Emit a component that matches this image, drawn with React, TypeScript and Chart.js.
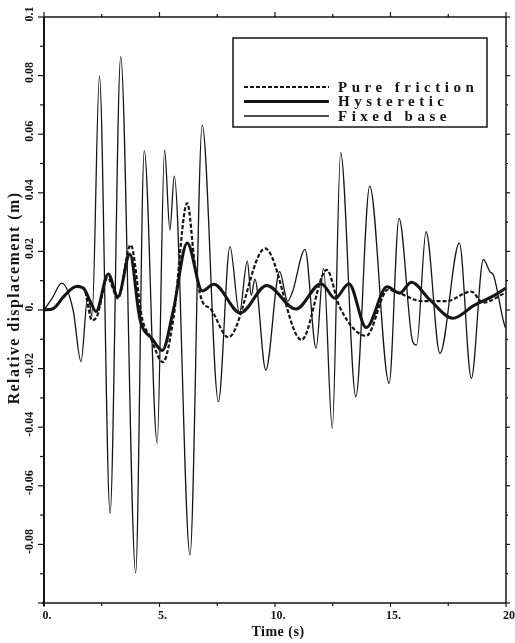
import React, { useEffect, useRef } from 'react';
import { Chart, registerables } from 'chart.js';

Chart.register(...registerables);

// ---- data (time in s, relative displacement in m) ----
const seriesNames = ['Pure friction', 'Hysteretic', 'Fixed base'];

const fixedT = [0, 0.35, 0.77, 1.26, 1.6, 1.9, 2.08, 2.4, 2.86, 3.32, 3.97, 4.34, 4.9, 5.22, 5.45, 5.64, 6.32, 6.85, 7.55, 8.05, 8.46, 8.8, 8.97, 9.13, 9.6, 10.2, 10.55, 10.75, 11.3, 11.78, 12.1, 12.48, 12.84, 13.5, 14.1, 14.94, 15.37, 15.95, 16.13, 16.54, 17.14, 17.98, 18.5, 19.02, 19.3, 19.45, 19.96, 20];
const fixedV = [0, 0.004, 0.0092, 0, -0.0176, 0.005, -0.002, 0.0799, -0.0694, 0.0865, -0.0897, 0.0544, -0.0455, 0.0546, 0.0273, 0.0457, -0.0836, 0.0631, -0.0313, 0.0216, -0.0011, 0.0167, 0.005, 0.0105, -0.0205, 0.0131, 0.003, 0.006, 0.0207, -0.013, 0.0143, -0.0404, 0.0537, -0.0296, 0.0423, -0.025, 0.0313, -0.0105, -0.012, 0.0267, -0.0148, 0.0228, -0.0233, 0.0173, 0.0131, 0.012, -0.0057, -0.006];

const hystT = [0, 0.4, 0.9, 1.4, 1.7, 2.0, 2.25, 2.78, 3.2, 3.72, 4.15, 4.7, 5.12, 5.6, 6.2, 6.85, 7.35, 8.5, 9.64, 10.9, 12.0, 12.6, 13.2, 13.95, 14.85, 15.4, 15.9, 16.7, 17.7, 18.6, 19.5, 20];
const hystV = [0, 0.0005, 0.005, 0.008, 0.0075, 0.003, -0.0005, 0.0123, 0.0045, 0.019, -0.003, -0.01, -0.0138, 0.0, 0.0229, 0.0065, 0.0088, -0.001, 0.0084, 0.0003, 0.009, 0.004, 0.009, -0.006, 0.0079, 0.0058, 0.0095, 0.0035, -0.0028, 0.0015, 0.005, 0.0075];

const fricT = [0, 0.4, 0.9, 1.45, 1.75, 2.08, 2.3, 2.75, 3.2, 3.75, 4.25, 4.6, 5.15, 5.6, 6.2, 6.54, 6.85, 7.2, 7.98, 9.57, 11.15, 12.24, 12.8, 13.95, 14.9, 15.3, 16.4, 17.4, 18.5, 19.0, 20];
const fricV = [0, 0.0005, 0.005, 0.0082, 0.007, -0.0035, -0.002, 0.011, 0.004, 0.0222, -0.003, -0.0092, -0.0178, -0.003, 0.0365, 0.0148, 0.003, 0.0005, -0.0093, 0.021, -0.0102, 0.0137, 0.001, -0.0088, 0.007, 0.006, 0.003, 0.003, 0.0063, 0.0025, 0.006];

const xTickValues = [0, 2.5, 5, 7.5, 10, 12.5, 15, 17.5, 20];
const xLabelValues = [0, 5, 10, 15, 20];
const xLabels = ['0.', '5.', '10.', '15.', '20'];
const yTickValues = [-0.1, -0.09, -0.08, -0.07, -0.06, -0.05, -0.04, -0.03, -0.02, -0.01, 0, 0.01, 0.02, 0.03, 0.04, 0.05, 0.06, 0.07, 0.08, 0.09, 0.1];
const yLabelValues = [0.1, 0.08, 0.06, 0.04, 0.02, 0, -0.02, -0.04, -0.06, -0.08];
const yLabels = ['0.1', '0.08', '0.06', '0.04', '0.02', '0.', '-0.02', '-0.04', '-0.06', '-0.08'];
const xTitle = 'Time (s)';
const yTitle = 'Relative displacement (m)';

const INK = '#151515';
const SERIF = '"Liberation Serif", "DejaVu Serif", serif';

const toPoints = (t: number[], v: number[]) => t.map((tt, i) => ({ x: tt, y: v[i] }));

const framePlugin = {
  id: 'framePlugin',
  afterDraw(chart: any) {
    const { ctx, chartArea, scales } = chart;
    const { left, right, top, bottom } = chartArea;
    const x = scales.x;
    const y = scales.y;
    const line = (x1: number, y1: number, x2: number, y2: number) => {
      ctx.beginPath();
      ctx.moveTo(x1, y1);
      ctx.lineTo(x2, y2);
      ctx.stroke();
    };
    ctx.save();
    ctx.strokeStyle = INK;
    ctx.fillStyle = INK;
    ctx.lineCap = 'butt';

    // frame
    ctx.lineWidth = 1.5;
    line(left, top, right, top);
    line(right, top, right, bottom);
    line(left - 2, bottom, right, bottom);
    ctx.lineWidth = 2;
    line(left, top, left, bottom + 3);

    // ticks
    ctx.lineWidth = 1.2;
    xTickValues.forEach((v) => {
      const px = x.getPixelForValue(v);
      const major = v % 5 === 0;
      line(px, top, px, top - (major ? 5 : 3));
      line(px, bottom, px, bottom + (major ? 4 : 3));
    });
    yTickValues.forEach((v) => {
      const py = y.getPixelForValue(v);
      const major = Math.abs(Math.round(v * 100)) % 2 === 0;
      line(left - (major ? 6 : 4), py, left, py);
      line(right, py, right + (major ? 4 : 2), py);
    });

    // tick labels
    ctx.font = 'bold 12px ' + SERIF;
    ctx.textAlign = 'center';
    ctx.textBaseline = 'middle';
    xLabelValues.forEach((v, i) => {
      const px = x.getPixelForValue(v);
      ctx.fillText(xLabels[i], px + 3, bottom + 13);
    });
    yLabelValues.forEach((v, i) => {
      const py = y.getPixelForValue(v);
      ctx.save();
      ctx.translate(left - 14, py);
      ctx.rotate(-Math.PI / 2);
      ctx.fillText(yLabels[i], 3, 0);
      ctx.restore();
    });

    // axis titles
    ctx.font = 'bold 14px ' + SERIF;
    (ctx as any).letterSpacing = '0.5px';
    ctx.fillText(xTitle, (left + right) / 2 + 3, bottom + 29);
    ctx.save();
    ctx.translate(left - 29, (top + bottom) / 2 - 12);
    ctx.rotate(-Math.PI / 2);
    ctx.font = 'bold 16px ' + SERIF;
    (ctx as any).letterSpacing = '1.4px';
    ctx.fillText(yTitle, 0, 0);
    ctx.restore();

    // legend
    const bx = left + 189;
    const by = top + 21;
    const bw = 254;
    const bh = 89;
    ctx.fillStyle = '#ffffff';
    ctx.fillRect(bx, by, bw, bh);
    ctx.fillStyle = INK;
    ctx.lineWidth = 1.5;
    ctx.strokeRect(bx, by, bw, bh);
    const rows = [
      { name: seriesNames[0], w: 2.2, dash: [4, 2] },
      { name: seriesNames[1], w: 3, dash: [] as number[] },
      { name: seriesNames[2], w: 1.3, dash: [] as number[] },
    ];
    ctx.font = 'bold 15px ' + SERIF;
    ctx.textAlign = 'left';
    (ctx as any).letterSpacing = '4.5px';
    rows.forEach((r, i) => {
      const ry = by + 49 + i * 14.5;
      ctx.lineWidth = r.w;
      ctx.setLineDash(r.dash);
      line(bx + 11, ry, bx + 96, ry);
      ctx.setLineDash([]);
      ctx.fillText(r.name, bx + 105, ry + 1);
    });
    ctx.restore();
  },
};

export default function App() {
  const ref = useRef<HTMLCanvasElement | null>(null);
  useEffect(() => {
    document.body.style.margin = '0';
    const canvas = ref.current;
    if (!canvas) return;
    const chart = new Chart(canvas, {
      type: 'line',
      data: {
        datasets: [
          {
            label: seriesNames[2],
            data: toPoints(fixedT, fixedV),
            borderColor: INK,
            borderWidth: 1.3,
            pointRadius: 0,
            cubicInterpolationMode: 'monotone',
            fill: false,
          },
          {
            label: seriesNames[0],
            data: toPoints(fricT, fricV),
            borderColor: INK,
            borderWidth: 2.2,
            borderDash: [4, 2],
            pointRadius: 0,
            cubicInterpolationMode: 'monotone',
            fill: false,
          },
          {
            label: seriesNames[1],
            data: toPoints(hystT, hystV),
            borderColor: INK,
            borderWidth: 3,
            pointRadius: 0,
            cubicInterpolationMode: 'monotone',
            fill: false,
          },
        ],
      },
      options: {
        responsive: false,
        animation: false,
        devicePixelRatio: 1,
        layout: { padding: { left: 0, right: 9, top: 17, bottom: 0 } },
        plugins: { legend: { display: false }, tooltip: { enabled: false }, title: { display: false } },
        scales: {
          x: {
            type: 'linear',
            min: 0,
            max: 20,
            grid: { display: false },
            border: { display: false },
            ticks: { display: false },
            afterFit: (s: any) => {
              s.height = 40;
            },
          },
          y: {
            type: 'linear',
            min: -0.1,
            max: 0.1,
            grid: { display: false },
            border: { display: false },
            ticks: { display: false },
            afterFit: (s: any) => {
              s.width = 44;
            },
          },
        },
      } as any,
      plugins: [framePlugin],
    });
    return () => chart.destroy();
  }, []);
  return (
    <div style={{ position: 'absolute', left: 0, top: 0, width: 515, height: 643, background: '#fff' }}>
      <canvas ref={ref} width={515} height={643} style={{ display: 'block' }} />
    </div>
  );
}
